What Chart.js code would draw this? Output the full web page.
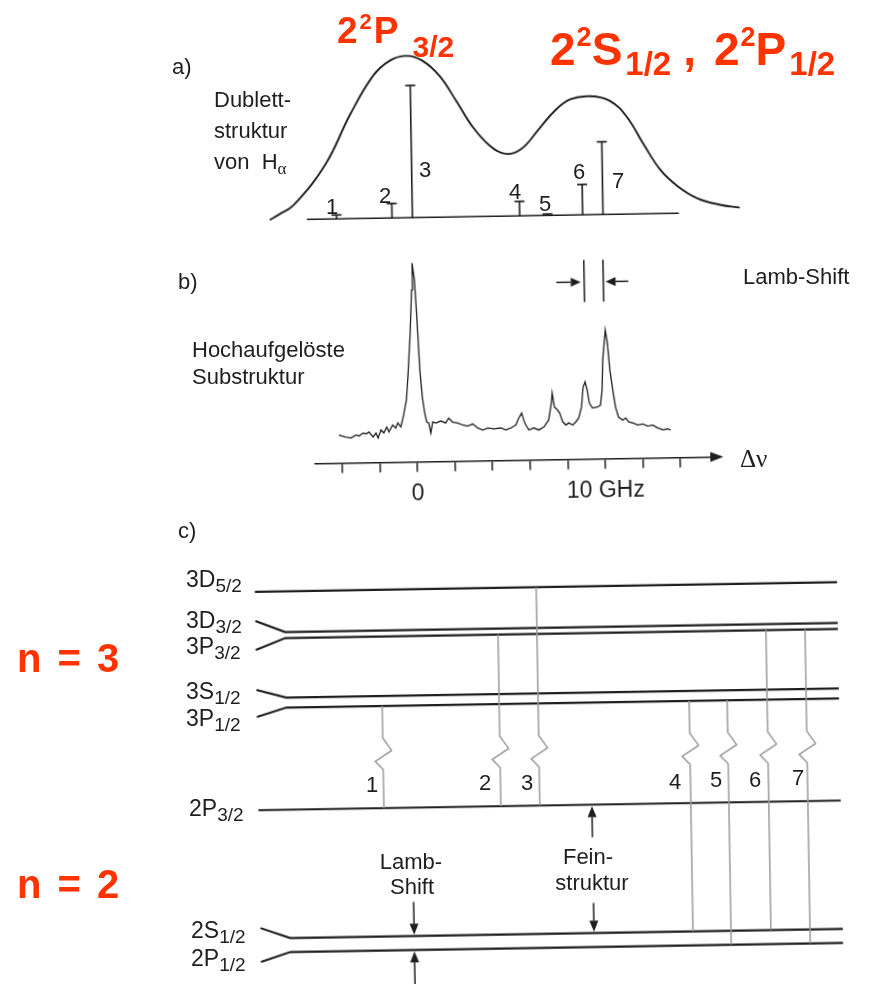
<!DOCTYPE html>
<html lang="de"><head><meta charset="utf-8">
<title>Feinstruktur der Balmer-Linie H-alpha</title>
<script src="https://cdn.jsdelivr.net/npm/chart.js@4.4.1/dist/chart.umd.min.js"></script>
<style>
html,body{margin:0;padding:0;background:#fff;}
#stage{position:relative;width:873px;height:984px;overflow:hidden;background:#fff;font-family:"Liberation Sans",Arial,Helvetica,sans-serif;color:#1e1e1e;}
#stage canvas{position:absolute;left:0;transform:rotate(-0.95deg);transform-origin:50% 50%;}
.t{position:absolute;white-space:nowrap;font-size:22px;line-height:1;}
.cc{transform:translate(-50%,-50%);}
.lc{transform:translateY(-50%);}
.lv{font-size:23px;}
.lv .s{font-size:19px;position:relative;top:5px;}
.red{color:#ff3300;font-weight:bold;}
.red .sp{position:relative;}
</style></head><body>
<div id="stage">
<canvas id="cA" width="873" height="240" style="top:0"></canvas>
<canvas id="cB" width="873" height="280" style="top:240px"></canvas>
<canvas id="cC" width="873" height="464" style="top:520px"></canvas>

<!-- red annotations -->
<div class="t red" style="left:337px;top:12px;font-size:37px;">2<span class="sp" style="font-size:22px;top:-14px;margin-left:2px;">2</span><span style="margin-left:2px">P</span><span class="sp" style="font-size:30px;top:14px;margin-left:14px;">3/2</span></div>
<div class="t red" style="left:550px;top:26px;font-size:46px;">2<span class="sp" style="font-size:27px;top:-19px;margin-left:1px;">2</span>S<span class="sp" style="font-size:33px;top:10px;margin-left:3px;">1/2</span><span style="margin-left:12px">,</span><span style="margin-left:18px">2</span><span class="sp" style="font-size:27px;top:-19px;margin-left:1px;">2</span>P<span class="sp" style="font-size:33px;top:10px;margin-left:3px;">1/2</span></div>
<div class="t red lc" style="left:17px;top:658px;font-size:40px;word-spacing:5px;">n = 3</div>
<div class="t red lc" style="left:17px;top:884px;font-size:40px;word-spacing:5px;">n = 2</div>

<!-- panel a -->
<div class="t lc" style="left:172px;top:67px;">a)</div>
<div class="t lc" style="left:214px;top:100px;">Dublett-</div>
<div class="t lc" style="left:214px;top:131px;">struktur</div>
<div class="t lc" style="left:214px;top:162px;">von&nbsp;&nbsp;H<span style="font-family:'Liberation Serif',serif;font-size:17px;position:relative;top:5px;">α</span></div>
<div id="stickLabels"></div>

<!-- panel b -->
<div class="t lc" style="left:178px;top:282px;">b)</div>
<div class="t lc" style="left:743px;top:277px;">Lamb-Shift</div>
<div class="t lc" style="left:192px;top:350px;">Hochaufgelöste</div>
<div class="t lc" style="left:192px;top:377px;">Substruktur</div>
<div class="t lc" style="left:740px;top:458px;font-family:'Liberation Serif',serif;font-size:25px;">Δν</div>

<!-- panel c -->
<div class="t lc" style="left:178px;top:531px;">c)</div>
<div class="t lv" style="left:186px;top:568px;">3D<span class="s">5/2</span></div>
<div class="t lv" style="left:186px;top:609px;">3D<span class="s">3/2</span></div>
<div class="t lv" style="left:186px;top:635px;">3P<span class="s">3/2</span></div>
<div class="t lv" style="left:186px;top:680px;">3S<span class="s">1/2</span></div>
<div class="t lv" style="left:186px;top:707px;">3P<span class="s">1/2</span></div>
<div class="t lv" style="left:189px;top:797px;">2P<span class="s">3/2</span></div>
<div class="t lv" style="left:191px;top:919px;">2S<span class="s">1/2</span></div>
<div class="t lv" style="left:191px;top:947px;">2P<span class="s">1/2</span></div>
<div id="transLabels"></div>
<div class="t cc" style="left:411px;top:862px;">Lamb-</div>
<div class="t cc" style="left:412px;top:887px;">Shift</div>
<div class="t cc" style="left:588px;top:857px;">Fein-</div>
<div class="t cc" style="left:592px;top:883px;">struktur</div>
</div>

<script>
// ---------------- data ----------------
// a) Doppler-broadened H-alpha profile (frequency in GHz, intensity rel.)
const dopplerFreq = [-8.0,-7.5,-6.7,-4.95,-3.54,-2.29,-1.38,-0.48,0.37,1.28,2.18,3.03,3.94,4.84,5.69,6.60,7.50,8.35,9.41,10.48,11.38,12.29,13.14,14.04,15.11,16.33,17.39];
const dopplerInt  = [0,4.1,11,41.4,79.6,107.9,119.1,122.5,118.7,107.1,87.6,68.1,53.6,47.0,51.1,65.2,79.3,87.6,89.6,85.8,73.4,51.8,33.0,20.7,11.1,5.9,3.5];
// fine-structure components 1..7
const componentLabels = ['1','2','3','4','5','6','7'];
const componentFreq = [-4.4,-1.4,-0.3,5.5,7.0,8.9,10.0];
const componentInt  = [3,11,100,11,1,23,55];
const baselineRange = [-6.0,14.1];

// b) high-resolution spectrum
const specFreq = [-4.15,-3.78,-3.51,-3.24,-3.09,-2.87,-2.71,-2.55,-2.34,-2.18,
 -2.07,-1.91,-1.76,-1.60,-1.49,-1.28,-1.12,-1.01,-0.85,-0.69,
 -0.53,-0.43,-0.27,-0.16,-0.11,0,0.11,0.21,0.32,0.43,
 0.53,0.64,0.74,0.85,1.01,1.28,1.54,1.70,1.91,2.18,
 2.45,2.71,2.98,3.24,3.51,3.78,4.10,4.47,4.73,5.00,
 5.27,5.43,5.59,5.69,5.80,5.96,6.22,6.49,6.76,7.02,
 7.18,7.23,7.34,7.50,7.61,7.77,7.93,8.09,8.30,8.46,
 8.62,8.78,8.88,8.99,9.10,9.20,9.36,9.63,9.79,9.89,
 9.95,10.11,10.21,10.32,10.48,10.59,10.74,10.96,11.12,11.28,
 11.49,11.76,12.02,12.29,12.55,12.82,13.09,13.35,13.51];
const specSignal = [3.7,2.5,1.9,3.6,3.0,4.6,4.1,5.1,2.3,4.5,
 1.7,6.2,4.5,7.8,5.0,8.9,7.2,10.0,7.7,14.5,
 22.9,35.9,60.7,85.0,100.2,90.6,66.3,39.7,24.4,15.4,
 10.3,9.7,4.0,10.2,9.6,10.7,9.5,12.3,10.0,9.4,
 8.2,7.6,8.7,6.4,5.2,6.3,5.7,6.2,5.0,6.1,
 7.7,11.6,14.5,10.5,7.6,4.8,5.9,4.7,6.3,10.2,
 19.8,25.5,17.5,15.8,14.1,9.0,7.3,8.4,7.2,8.9,
 11.1,17.3,28.5,31.4,26.8,19.5,16.6,17.1,18.2,26.7,
 43.6,60.5,53.2,37.9,24.9,16.9,11.3,9.5,10.7,8.4,
 7.8,6.6,7.1,5.9,6.4,4.7,3.6,4.1,3.4];
const axisTicks = [-4,-2,0,2,4,6,8,10,12,14];
const tickLabels = {0:'0', 10:'10 GHz'};
const lambShiftMarks = [9.03,10.05];      // GHz
const lambMarkRange = [76.6,100.3];       // signal units
const lambArrowLevel = 87.9;
const lambArrowTails = [7.55,11.38];

// c) term scheme (energies in diagram units)
const levelNames  = ['3D5/2','3D3/2','3P3/2','3S1/2','3P1/2','2P3/2','2S1/2','2P1/2'];
const levelE      = [85.15,76.38,75.09,62.26,60.11,38.08,10.43,7.41];
const levelLabelE = [null,78.88,72.63,64.01,58.19,null,12.69,5.37];
const transLabels = ['1','2','3','4','5','6','7'];
const transUpper  = [4,2,0,4,4,2,2];
const transLower  = [5,5,5,6,7,6,7];
const transColumn = [43.87,57.27,61.73,79.03,83.39,87.96,92.44];
const breakE      = [53.2,50.5,48.2,46.4];
const lambShiftCol = 47.1, fineStructCol = 67.7;

// ---------------- layout / style ----------------
const INK = '#1e1e1e', GREY = '#9b9b9b';
Chart.defaults.font.family = "'Liberation Sans', Arial, sans-serif";
Chart.defaults.color = INK;

const arrowPlugin = {
  id: 'arrows',
  afterDatasetsDraw(chart, args, opts) {
    const {ctx, scales:{x, y}} = chart;
    (opts.items || []).forEach(a => {
      const x0 = x.getPixelForValue(a.from[0]), y0 = y.getPixelForValue(a.from[1]);
      const x1 = x.getPixelForValue(a.to[0]),   y1 = y.getPixelForValue(a.to[1]);
      const ang = Math.atan2(y1 - y0, x1 - x0), L = opts.head || 11, W = opts.half || 4.5;
      const bx = x1 - L * Math.cos(ang), by = y1 - L * Math.sin(ang);
      ctx.save();
      ctx.strokeStyle = INK; ctx.fillStyle = INK; ctx.lineWidth = 1.5;
      ctx.beginPath(); ctx.moveTo(x0, y0); ctx.lineTo(bx, by); ctx.stroke();
      ctx.beginPath(); ctx.moveTo(x1, y1);
      ctx.lineTo(bx + W * Math.sin(ang), by - W * Math.cos(ang));
      ctx.lineTo(bx - W * Math.sin(ang), by + W * Math.cos(ang));
      ctx.closePath(); ctx.fill();
      ctx.restore();
    });
  }
};
const axisArrowPlugin = {
  id: 'axisArrow',
  afterDraw(chart, args, opts) {
    if (!opts.enabled) return;
    const {ctx, chartArea:{right, bottom}} = chart;
    ctx.save(); ctx.fillStyle = INK;
    ctx.beginPath(); ctx.moveTo(right + 3, bottom); ctx.lineTo(right - 10, bottom - 5); ctx.lineTo(right - 10, bottom + 5);
    ctx.closePath(); ctx.fill(); ctx.restore();
  }
};

function baseOptions(xs, ys, padding, extraPlugins) {
  return {
    responsive: false, animation: false, devicePixelRatio: 1,
    layout: { padding },
    events: [],
    plugins: Object.assign({ legend: {display:false}, tooltip: {enabled:false} }, extraPlugins || {}),
    scales: { x: xs, y: ys },
    elements: { point: { radius: 0 } }
  };
}
const line = (data, extra) => Object.assign({ data, showLine: true, borderColor: INK, borderWidth: 1.6, pointRadius: 0, clip: false, spanGaps: false }, extra || {});

// ---------- a) ----------
const sticks = componentFreq.flatMap((f, i) => [{x:f, y:0}, {x:f, y:componentInt[i]}, {x:f, y:null}]);
new Chart(document.getElementById('cA'), {
  type: 'scatter',
  data: { datasets: [
    line(dopplerFreq.map((f, i) => ({x:f, y:dopplerInt[i]})), {borderWidth:1.9, tension:0.4}),
    line(baselineRange.map(f => ({x:f, y:0})), {borderWidth:1.6}),
    line(sticks, {borderWidth:1.6}),
    line(componentFreq.map((f, i) => ({x:f, y:componentInt[i]})), {showLine:false, pointStyle:'line', pointRadius:5, pointBorderWidth:1.7, pointBorderColor:INK})
  ]},
  options: baseOptions(
    {type:'linear', min:-22.13, max:24.31, display:false},
    {type:'linear', min:-12.14, max:159.29, display:false}, 0)
});

// ---------- b) ----------
const marks = lambShiftMarks.flatMap(f => [{x:f, y:lambMarkRange[0]}, {x:f, y:lambMarkRange[1]}, {x:f, y:null}]);
new Chart(document.getElementById('cB'), {
  type: 'scatter',
  data: { datasets: [
    line(specFreq.map((f, i) => ({x:f, y:specSignal[i]})), {borderWidth:1.3}),
    line(marks, {borderWidth:1.5})
  ]},
  options: baseOptions(
    { type:'linear', min:-5.43, max:16.12, position:'bottom',
      afterBuildTicks: s => { s.ticks = axisTicks.map(v => ({value:v})); },
      afterFit: s => { s.height = 44; },
      grid: { display:true, drawOnChartArea:false, drawTicks:true, tickLength:10, color:INK, lineWidth:1.5 },
      border: { display:true, color:INK, width:1.6 },
      ticks: { autoSkip:false, maxRotation:0, minRotation:0, padding:8, color:INK, font:{size:23},
               callback: v => (tickLabels[v] !== undefined ? tickLabels[v] : '') } },
    { type:'linear', min:-12.15, max:113.0, display:false },
    {left:314, right:154, top:0, bottom:14.5},
    { arrows: { items: lambArrowTails.map((t, i) => ({from:[t, lambArrowLevel], to:[lambShiftMarks[i] + (i === 0 ? -0.18 : 0.12), lambArrowLevel]})), head:10, half:4.5 },
      axisArrow: { enabled:true } })
  ,plugins: [arrowPlugin, axisArrowPlugin]
});

// ---------- c) ----------
const LEFT = 29.5, KNEE = 32.9, RIGHT = 96.2, ZIG = [0, 1.0, -0.9, 0];
const levelSets = levelE.map((e, i) => line(
  levelLabelE[i] === null ? [{x:LEFT, y:e}, {x:RIGHT, y:e}]
                          : [{x:LEFT, y:levelLabelE[i]}, {x:KNEE, y:e}, {x:RIGHT, y:e}],
  {borderWidth:2.1, label: levelNames[i]}));
const transSets = transColumn.map((c, i) => line(
  [{x:c, y:levelE[transUpper[i]]}, ...breakE.map((b, k) => ({x:c + ZIG[k], y:b})), {x:c, y:levelE[transLower[i]]}],
  {borderWidth:1.5, borderColor:GREY, label: transLabels[i]}));
new Chart(document.getElementById('cC'), {
  type: 'scatter',
  data: { datasets: [...transSets, ...levelSets] },
  options: baseOptions(
    {type:'linear', min:0, max:100, display:false},
    {type:'linear', min:0, max:100, display:false}, 0,
    { arrows: { items: [
        {from:[lambShiftCol, 17.8], to:[lambShiftCol, levelE[6] + 0.3]},
        {from:[lambShiftCol, 0.0],  to:[lambShiftCol, levelE[7] - 0.3]},
        {from:[fineStructCol, 31.1], to:[fineStructCol, levelE[5] - 0.3]},
        {from:[fineStructCol, 16.9], to:[fineStructCol, levelE[6] + 0.3]} ], head:11, half:4.5 } }),
  plugins: [arrowPlugin]
});

// ---------- text labels for components / transitions ----------
const stickLabelPos = [[332,207],[385,196],[425,170],[515,192],[545,204],[579,172],[618,181]];
const transLabelPos = [[372,785],[485,783],[527,783],[675,782],[716,780],[755,780],[798,778]];
function placeLabels(id, labels, pos) {
  const host = document.getElementById(id);
  labels.forEach((l, i) => {
    const d = document.createElement('div');
    d.className = 't cc'; d.textContent = l;
    d.style.left = pos[i][0] + 'px'; d.style.top = pos[i][1] + 'px';
    host.appendChild(d);
  });
}
placeLabels('stickLabels', componentLabels, stickLabelPos);
placeLabels('transLabels', transLabels, transLabelPos);
</script>
</body></html>
